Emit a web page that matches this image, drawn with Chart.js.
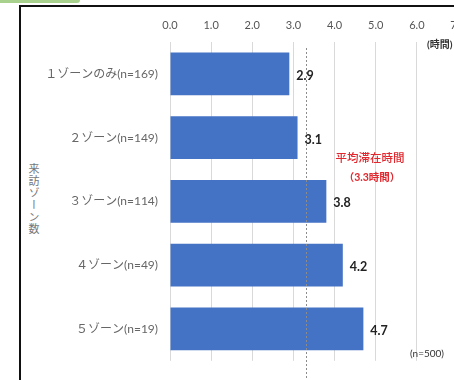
<!DOCTYPE html>
<html><head><meta charset="utf-8">
<script src="https://cdn.jsdelivr.net/npm/chart.js@4"></script>
<style>
html,body{margin:0;padding:0;background:#fff;overflow:hidden;width:454px;height:380px;}
#wrap{position:relative;width:454px;height:380px;overflow:hidden;}
#tab{position:absolute;left:0;top:0;width:80px;height:3px;background:#a9d18e;border-bottom-right-radius:3px;}
#frame{position:absolute;left:19px;top:5px;width:460px;height:400px;border-left:2px solid #111;border-top:2px solid #111;}
#ytitle{position:absolute;left:26px;top:163px;writing-mode:vertical-rl;text-orientation:upright;font:11px 'Noto Sans CJK JP',sans-serif;color:#777;letter-spacing:1px;}
canvas{position:absolute;left:0;top:0;}
</style></head>
<body><div id="wrap"><div id="tab"></div><div id="frame"></div>
<div id="ytitle">来訪ゾーン数</div>
<canvas id="c" width="480" height="380"></canvas></div>
<script>
const categories = ['１ゾーンのみ(n=169)','２ゾーン(n=149)','３ゾーン(n=114)','４ゾーン(n=49)','５ゾーン(n=19)'];
const hours = [2.9, 3.1, 3.8, 4.2, 4.7];
const averageHours = 3.3;
const xTicks = [0,1,2,3,4,5,6,7];
const avgLabel = ['平均滞在時間','（3.3時間）'];
const unitLabel = '(時間)';
const sampleLabel = '(n=500)';

const FONT = "Lato, 'Noto Sans CJK JP', sans-serif";

const extras = {
  id:'extras',
  afterDatasetsDraw(chart){
    const ctx = chart.ctx, xs = chart.scales.x, area = chart.chartArea;
    ctx.save();
    const ax = Math.round(xs.getPixelForValue(averageHours)) + 0.5;
    ctx.strokeStyle = '#8c8c8c'; ctx.lineWidth = 1; ctx.setLineDash([2,2]);
    ctx.beginPath(); ctx.moveTo(ax, area.top + 6); ctx.lineTo(ax, 380); ctx.stroke();
    ctx.setLineDash([]);
    const meta = chart.getDatasetMeta(0);
    ctx.font = "bold 12.5px " + FONT; ctx.fillStyle = '#222'; ctx.textAlign = 'left'; ctx.textBaseline = 'middle';
    meta.data.forEach((bar,i)=>{ ctx.fillText(hours[i].toFixed(1), bar.x + 7, bar.y + 2); });
    ctx.fillStyle = '#e0282e'; ctx.textAlign = 'center';
    ctx.font = "500 11.5px 'Noto Sans CJK JP', sans-serif";
    ctx.fillText(avgLabel[0], 370, 158);
    ctx.font = "bold 10.5px " + FONT;
    ctx.fillText(avgLabel[1], 372, 178);
    ctx.fillStyle = '#333'; ctx.textAlign = 'left';
    ctx.font = "bold 10px " + FONT;
    ctx.fillText(unitLabel, 427, 45);
    ctx.font = "10px " + FONT;
    ctx.fillText(sampleLabel, 410, 354);
    ctx.restore();
  }
};

new Chart(document.getElementById('c'), {
  type:'bar',
  data:{ labels: categories, datasets:[{ data: hours, backgroundColor:'#4472c4', borderWidth:0, barPercentage:0.67, categoryPercentage:1 }]},
  options:{
    indexAxis:'y', responsive:false, animation:false, devicePixelRatio:1,
    layout:{ padding:{ left:0, top:0, right:22, bottom:9 } },
    plugins:{ legend:{display:false}, tooltip:{enabled:false} },
    scales:{
      x:{ position:'top', min:0, max:7,
          afterBuildTicks(s){ s.ticks = xTicks.map(v=>({value:v})); },
          afterFit(s){ s.height = 42; },
          ticks:{ callback:v=>Number(v).toFixed(1), font:{size:11, family:FONT}, color:'#555', padding:10, maxRotation:0 },
          grid:{ color:'#d9d9d9', drawTicks:false }, border:{display:false} },
      y:{ afterFit(s){ s.width = 170; },
          ticks:{ font:{size:12, family:FONT}, color:'#666', padding:12 },
          grid:{ display:false, drawTicks:false }, border:{display:false} }
    }
  },
  plugins:[extras]
});
</script></body></html>
